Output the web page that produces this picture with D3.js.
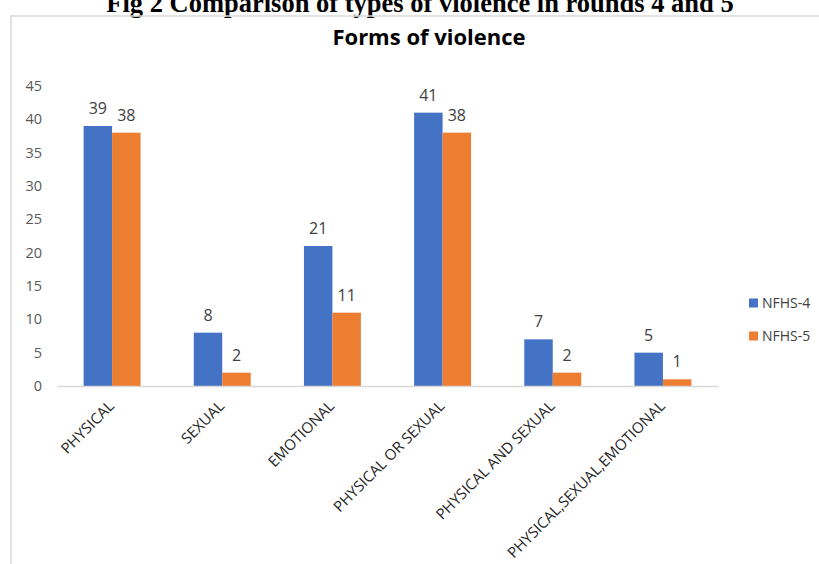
<!DOCTYPE html>
<html>
<head>
<meta charset="utf-8">
<script src="https://cdn.jsdelivr.net/npm/d3@7"></script>
<style>
  body { margin: 0; background: #fff; }
  svg { display: block; }
</style>
</head>
<body>
<div id="chart"></div>
<script>
const categories = ["PHYSICAL", "SEXUAL", "EMOTIONAL", "PHYSICAL OR SEXUAL", "PHYSICAL AND SEXUAL", "PHYSICAL,SEXUAL,EMOTIONAL"]
const seriesNames = ["NFHS-4", "NFHS-5"]
const nfhs4 = [39, 8, 21, 41, 7, 5]
const nfhs5 = [38, 2, 11, 38, 2, 1]
const yTicks = [0, 5, 10, 15, 20, 25, 30, 35, 40, 45]
const colors = ["#4472C4", "#ED7D31"]

const width = 819
const height = 564
const font = "'Open Sans', 'DejaVu Sans', sans-serif"

const svg = d3.select("#chart")
  .append("svg")
  .attr("width", width)
  .attr("height", height)

svg.append("rect")
  .attr("width", width)
  .attr("height", height)
  .attr("fill", "#fff")

// figure caption, cut at the top like the scan
svg.append("text")
  .attr("x", 420)
  .attr("y", 12)
  .attr("text-anchor", "middle")
  .style("font-family", "'Liberation Serif', 'Times New Roman', serif")
  .style("font-weight", "bold")
  .style("font-size", "26.5px")
  .text("Fig 2 Comparison of types of violence in rounds 4 and 5")

// chart frame
svg.append("rect")
  .attr("x", 11)
  .attr("y", 16)
  .attr("width", 900)
  .attr("height", 700)
  .attr("fill", "none")
  .attr("stroke", "#d9d9d9")
  .attr("stroke-width", 1.5)

svg.append("text")
  .attr("x", 429)
  .attr("y", 45)
  .attr("text-anchor", "middle")
  .style("font-family", font)
  .style("font-weight", "bold")
  .style("font-size", "22px")
  .attr("fill", "#000")
  .text("Forms of violence")

const x0 = d3.scaleBand()
  .domain(categories)
  .range([57, 718])
  .paddingInner(0.483)
  .paddingOuter(0.2415)

const x1 = d3.scaleBand()
  .domain(seriesNames)
  .range([0, x0.bandwidth()])

const y = d3.scaleLinear()
  .domain([0, 45])
  .range([386, 86])

// y axis labels
const gy = svg.append("g")
  .attr("transform", "translate(57,0)")
  .call(d3.axisLeft(y).tickValues(yTicks).tickSize(0).tickPadding(15))
gy.select(".domain").remove()
gy.selectAll("text")
  .style("font-family", font)
  .style("font-size", "14.5px")
  .attr("fill", "#595959")

const rows = categories.map((c, i) => ({ cat: c, values: [nfhs4[i], nfhs5[i]] }))

const groups = svg.append("g")
  .selectAll("g")
  .data(rows)
  .join("g")
  .attr("transform", d => `translate(${x0(d.cat)},0)`)

groups.selectAll("rect")
  .data(d => d.values.map((v, j) => ({ name: seriesNames[j], v: v, j: j })))
  .join("rect")
  .attr("x", d => x1(d.name))
  .attr("y", d => y(d.v))
  .attr("width", x1.bandwidth())
  .attr("height", d => y(0) - y(d.v))
  .attr("fill", d => colors[d.j])

groups.selectAll("text")
  .data(d => d.values.map((v, j) => ({ name: seriesNames[j], v: v, j: j })))
  .join("text")
  .attr("x", d => x1(d.name) + x1.bandwidth() / 2)
  .attr("y", d => y(d.v) - 12)
  .attr("text-anchor", "middle")
  .style("font-family", font)
  .style("font-size", "16px")
  .attr("fill", "#404040")
  .text(d => d.v)

// category axis
const gx = svg.append("g")
  .attr("transform", "translate(0,386)")
  .call(d3.axisBottom(x0).tickSize(0))
gx.select(".domain")
  .attr("stroke", "#d9d9d9")
  .attr("stroke-width", 1.5)
gx.selectAll("text")
  .attr("x", 0)
  .attr("y", 0)
  .attr("dy", 0)
  .attr("text-anchor", "end")
  .attr("transform", "translate(3,21) rotate(-45)")
  .style("font-family", font)
  .style("font-size", "15px")
  .attr("fill", "#262626")

// legend
const legend = svg.append("g")
  .selectAll("g")
  .data(seriesNames)
  .join("g")
  .attr("transform", (d, i) => `translate(749,${303 + i * 33})`)

legend.append("rect")
  .attr("x", 0)
  .attr("y", -4.5)
  .attr("width", 9)
  .attr("height", 9)
  .attr("fill", (d, i) => colors[i])

legend.append("text")
  .attr("x", 13)
  .attr("y", 0)
  .attr("dy", "0.35em")
  .style("font-family", font)
  .style("font-size", "14px")
  .attr("fill", "#404040")
  .text(d => d)
</script>
</body>
</html>
